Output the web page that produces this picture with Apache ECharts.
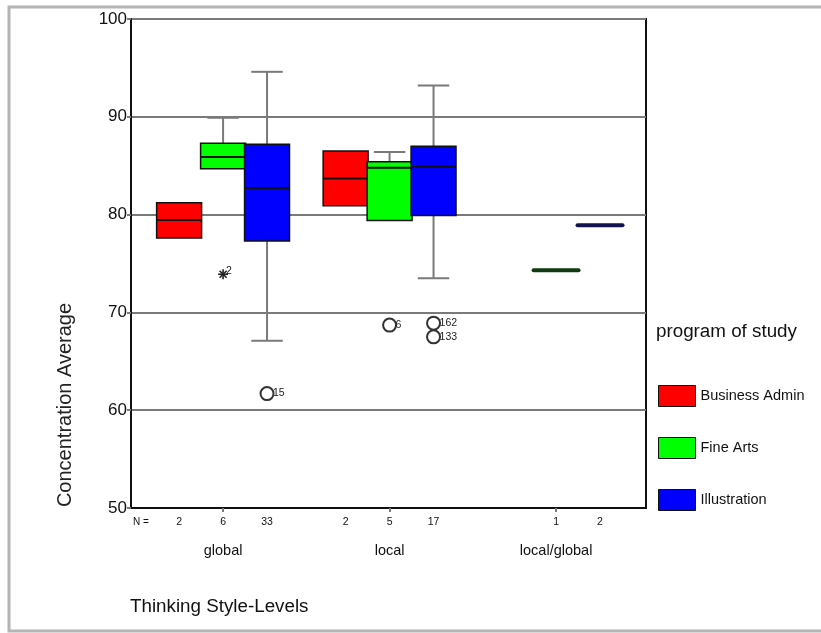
<!DOCTYPE html>
<html>
<head>
<meta charset="utf-8">
<script src="https://cdn.jsdelivr.net/npm/echarts@6/dist/echarts.min.js"></script>
<style>
html,body{margin:0;padding:0;background:#fff;}
#chart{width:821px;height:633px;}
</style>
</head>
<body>
<div id="chart"></div>
<script>
// ---- data ----
const categories = ['global', 'local', 'local/global'];
const programs = ['Business Admin', 'Fine Arts', 'Illustration'];
const yTicks = [50, 60, 70, 80, 90, 100];
// [group index, lower whisker, Q1, median, Q3, upper whisker]
const businessAdmin = [
  [0, 77.6, 77.6, 79.45, 81.2, 81.2],
  [1, 80.9, 80.9, 83.7, 86.5, 86.5]
];
const fineArts = [
  [0, 84.7, 84.7, 85.9, 87.3, 89.9],
  [1, 79.4, 79.4, 84.8, 85.4, 86.4],
  [2, 74.3, 74.3, 74.3, 74.3, 74.3]
];
const illustration = [
  [0, 67.1, 77.3, 82.7, 87.2, 94.6],
  [1, 73.5, 79.9, 84.9, 87.0, 93.2],
  [2, 78.9, 78.9, 78.9, 78.9, 78.9]
];
// N per group for each program
const businessAdminN = [2, 2, null];
const fineArtsN = [6, 5, 1];
const illustrationN = [33, 17, 2];
// outliers: [group index, program index, value, case label, kind]
const outliers = [
  [0, 1, 73.9, '2', 'extreme'],
  [0, 2, 61.7, '15', 'outlier'],
  [1, 1, 68.7, '6', 'outlier'],
  [1, 2, 68.9, '162', 'outlier'],
  [1, 2, 67.5, '133', 'outlier']
];

// ---- layout helpers ----
const SLOT = 0.264;   // spacing between programs within a group (axis units)
const BOXW = 0.27;    // box width (axis units)
const XMIN = 0.447, XMAX = 3.54;
const colors = ['#ff0000', '#00ff00', '#0000ff'];
const flatColors = ['#5a0000', '#123a12', '#121250'];
const allBoxes = [businessAdmin, fineArts, illustration];
const allN = [businessAdminN, fineArtsN, illustrationN];
function xPos(g, p) { return g + 1 + (p - 1) * SLOT; }

const nPositions = [], nLabelMap = {};
allN.forEach((arr, p) => arr.forEach((n, g) => {
  if (n !== null) {
    const v = xPos(g, p);
    nPositions.push(v);
    nLabelMap[v.toFixed(4)] = String(n);
  }
}));
nPositions.sort((a, b) => a - b);

function renderBox(params, api) {
  const p = params.seriesIndex;
  const x = xPos(api.value(0), p);
  const lo = api.coord([x, api.value(1)]);
  const q1 = api.coord([x, api.value(2)]);
  const md = api.coord([x, api.value(3)]);
  const q3 = api.coord([x, api.value(4)]);
  const hi = api.coord([x, api.value(5)]);
  const w = api.size([BOXW, 0])[0];
  const cx = q1[0];
  const cap = w * 0.35;
  const children = [];
  const gray = { stroke: '#7a7a7a', lineWidth: 2 };
  if (api.value(4) === api.value(2)) {
    children.push({ type: 'line', shape: { x1: cx - w / 2, y1: md[1], x2: cx + w / 2, y2: md[1] },
      style: { stroke: flatColors[p], lineWidth: 4, lineCap: 'round' } });
    return { type: 'group', children };
  }
  if (api.value(5) > api.value(4)) {
    children.push({ type: 'line', shape: { x1: cx, y1: q3[1], x2: cx, y2: hi[1] }, style: gray });
    children.push({ type: 'line', shape: { x1: cx - cap, y1: hi[1], x2: cx + cap, y2: hi[1] }, style: gray });
  }
  if (api.value(1) < api.value(2)) {
    children.push({ type: 'line', shape: { x1: cx, y1: q1[1], x2: cx, y2: lo[1] }, style: gray });
    children.push({ type: 'line', shape: { x1: cx - cap, y1: lo[1], x2: cx + cap, y2: lo[1] }, style: gray });
  }
  children.push({ type: 'rect', shape: { x: cx - w / 2, y: q3[1], width: w, height: q1[1] - q3[1] },
    style: { fill: colors[p], stroke: '#111', lineWidth: 1.5 } });
  children.push({ type: 'line', shape: { x1: cx - w / 2, y1: md[1], x2: cx + w / 2, y2: md[1] },
    style: { stroke: '#111', lineWidth: 2 } });
  return { type: 'group', children };
}

const font = '"Liberation Sans", Arial, sans-serif';

function renderOutlier(params, api) {
  const x = xPos(api.value(0), api.value(1));
  const c = api.coord([x, api.value(2)]);
  const item = outliers[params.dataIndex];
  const children = [];
  if (item[4] === 'extreme') {
    const r = 5;
    for (let k = 0; k < 4; k++) {
      const a = k * Math.PI / 4;
      children.push({ type: 'line', shape: { x1: c[0] - r * Math.cos(a), y1: c[1] - r * Math.sin(a),
        x2: c[0] + r * Math.cos(a), y2: c[1] + r * Math.sin(a) }, style: { stroke: '#222', lineWidth: 1.6 } });
    }
    children.push({ type: 'text', x: c[0] + 3, y: c[1] - 3,
      style: { text: item[3], fontSize: 10.5, fill: '#222', fontFamily: font, align: 'left', verticalAlign: 'middle' } });
  } else {
    children.push({ type: 'circle', shape: { cx: c[0], cy: c[1], r: 6.5 }, style: { fill: 'none', stroke: '#333', lineWidth: 2 } });
    children.push({ type: 'text', x: c[0] + 6, y: c[1],
      style: { text: item[3], fontSize: 10.5, fill: '#222', fontFamily: font, align: 'left', verticalAlign: 'middle' } });
  }
  return { type: 'group', children };
}

const chart = echarts.init(document.getElementById('chart'), null, { renderer: 'canvas' });
const option = {
  animation: false,
  backgroundColor: '#fff',
  textStyle: { fontFamily: font },
  grid: { left: 131, top: 19, width: 515, height: 489, show: true, borderColor: '#111', borderWidth: 2, backgroundColor: 'transparent' },
  xAxis: [{
    type: 'value', min: XMIN, max: XMAX,
    axisLine: { show: true, lineStyle: { color: '#111', width: 2 } },
    axisTick: { show: true, customValues: [1, 2, 3], length: 4, lineStyle: { color: '#7a7a7a', width: 2 } },
    axisLabel: { show: true, customValues: [1, 2, 3], margin: 35, fontSize: 14.5, color: '#111', fontFamily: font,
      formatter: v => categories[Math.round(v) - 1] },
    splitLine: { show: false }
  }, {
    type: 'value', min: XMIN, max: XMAX, position: 'bottom',
    axisLine: { show: false }, axisTick: { show: false }, splitLine: { show: false },
    axisLabel: { show: true, customValues: nPositions, margin: 9, fontSize: 10.5, color: '#111', fontFamily: font,
      formatter: v => nLabelMap[Number(v).toFixed(4)] || '' }
  }],
  yAxis: {
    type: 'value', min: 50, max: 100, interval: 10,
    axisLine: { show: true, lineStyle: { color: '#111', width: 2 } },
    axisTick: { show: true, length: 4, lineStyle: { color: '#7a7a7a', width: 2 } },
    axisLabel: { margin: 4, fontSize: 17, color: '#111', fontFamily: font,
      formatter: v => yTicks.includes(v) ? String(v) : '' },
    splitLine: { show: true, lineStyle: { color: '#7a7a7a', width: 2 } }
  },
  legend: {
    data: programs, orient: 'vertical', left: 658, top: 385, itemWidth: 37, itemHeight: 21, itemGap: 30,
    icon: 'rect', padding: 0, selectedMode: false,
    itemStyle: { borderColor: '#111', borderWidth: 1 },
    textStyle: { fontSize: 14.5, color: '#111', fontFamily: font }
  },
  graphic: [
    { type: 'polyline', silent: true, shape: { points: [[821, 7], [9, 7], [9, 631], [821, 631]] },
      style: { stroke: '#b4b4b4', lineWidth: 3, fill: 'none' } },
    { type: 'text', left: 656, top: 322, style: { text: 'program of study', fontSize: 18.8, fill: '#111', fontFamily: font } },
    { type: 'text', left: 130, top: 597, style: { text: 'Thinking Style-Levels', fontSize: 18.8, fill: '#111', fontFamily: font } },
    { type: 'text', left: 133, top: 517, style: { text: 'N =', fontSize: 10, fill: '#111', fontFamily: font } },
    { type: 'text', x: 65, y: 405, rotation: Math.PI / 2, style: { text: 'Concentration Average', fontSize: 20, fill: '#222',
      fontFamily: font, align: 'center', verticalAlign: 'middle' } }
  ],
  series: programs.map((name, p) => ({
    name, type: 'custom', renderItem: renderBox, data: allBoxes[p],
    itemStyle: { color: colors[p] }, encode: { x: 0, y: [1, 2, 3, 4, 5] }, z: 3
  })).concat([{
    name: 'outliers', type: 'custom', renderItem: renderOutlier, z: 4,
    data: outliers.map(o => [o[0], o[1], o[2]]), encode: { x: 0, y: 2 }
  }])
};
chart.setOption(option);
</script>
</body>
</html>
